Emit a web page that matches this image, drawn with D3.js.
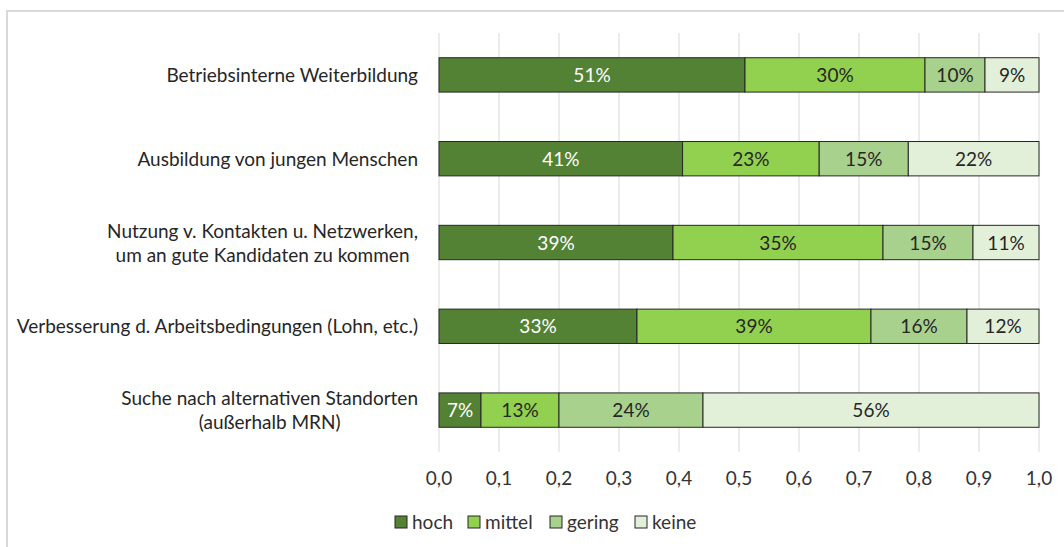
<!DOCTYPE html>
<html>
<head>
<meta charset="utf-8">
<script src="https://cdn.jsdelivr.net/npm/d3@7"></script>
<style>
  body { margin: 0; background: #fff; }
  text { font-family: Lato, "Open Sans", sans-serif; }
</style>
</head>
<body>
<svg id="chart" width="1064" height="547"></svg>
<script>
// categories (each label split into lines)
let categories = [
    ["Betriebsinterne Weiterbildung"],
    ["Ausbildung von jungen Menschen"],
    ["Nutzung v. Kontakten u. Netzwerken,", "um an gute Kandidaten zu kommen"],
    ["Verbesserung d. Arbeitsbedingungen (Lohn, etc.)"],
    ["Suche nach alternativen Standorten", "(außerhalb MRN)"]
];
let seriesNames = ["hoch", "mittel", "gering", "keine"];
let seriesColors = ["#548235", "#92d050", "#a9d18e", "#e2f0d9"];
let labelColors = ["#ffffff", "#262626", "#262626", "#262626"];

// percent values per series, one entry per category
let hoch   = [51, 41, 39, 33, 7];
let mittel = [30, 23, 35, 39, 13];
let gering = [10, 15, 15, 16, 24];
let keine  = [9, 22, 11, 12, 56];

let tickValues = [0, 0.1, 0.2, 0.3, 0.4, 0.5, 0.6, 0.7, 0.8, 0.9, 1.0];

let svg = d3.select("#chart");
let W = 1064, H = 547;
let fontSize = "19px";

// outer frame (only top and left edges visible)
svg.append("path")
    .attr("d", "M7," + H + "V11H" + W)
    .attr("fill", "none")
    .attr("stroke", "#d9d9d9")
    .attr("stroke-width", 2);

let x = d3.scaleLinear().domain([0, 1]).range([439, 1039]);
let y = d3.scaleBand().domain(d3.range(categories.length)).range([33, 452]).paddingInner(0.59).paddingOuter(0.295);

let comma = d3.formatLocale({decimal: ",", thousands: ".", grouping: [3], currency: ["", "€"]}).format(".1f");

// gridlines
svg.append("g")
    .selectAll("line")
    .data(tickValues)
    .enter().append("line")
    .attr("x1", d => x(d)).attr("x2", d => x(d))
    .attr("y1", 33).attr("y2", 452)
    .attr("stroke", "#d9d9d9")
    .attr("stroke-width", 1);

// tick labels
svg.append("g")
    .selectAll("text")
    .data(tickValues)
    .enter().append("text")
    .attr("x", d => x(d))
    .attr("y", 485)
    .attr("text-anchor", "middle")
    .attr("fill", "#333333")
    .style("font-size", fontSize)
    .text(d => comma(d));

// stack data
let rows = categories.map((c, i) => {
    let vals = [hoch[i], mittel[i], gering[i], keine[i]];
    let total = d3.sum(vals);
    let start = 0;
    return vals.map((v, k) => {
        let seg = {row: i, series: k, value: v, x0: start / total, x1: (start + v) / total};
        start += v;
        return seg;
    });
});
let segments = rows.flat();

svg.append("g")
    .selectAll("rect")
    .data(segments)
    .enter().append("rect")
    .attr("x", d => x(d.x0))
    .attr("y", d => y(d.row))
    .attr("width", d => x(d.x1) - x(d.x0))
    .attr("height", y.bandwidth())
    .attr("fill", d => seriesColors[d.series])
    .attr("stroke", "#262626")
    .attr("stroke-width", 1);

svg.append("g")
    .selectAll("text")
    .data(segments)
    .enter().append("text")
    .attr("x", d => (x(d.x0) + x(d.x1)) / 2)
    .attr("y", d => y(d.row) + y.bandwidth() / 2 + 7)
    .attr("text-anchor", "middle")
    .attr("fill", d => labelColors[d.series])
    .style("font-size", fontSize)
    .text(d => d.value + "%");

// category labels: block right-aligned, lines centred inside the block
let labelRight = 418;
let catG = svg.append("g")
    .selectAll("text")
    .data(categories)
    .enter().append("text")
    .attr("text-anchor", "middle")
    .attr("fill", "#262626")
    .style("font-size", fontSize)
    .attr("y", (d, i) => y(i) + y.bandwidth() / 2 + 7 - (d.length - 1) * 12);

catG.selectAll("tspan")
    .data(d => d)
    .enter().append("tspan")
    .attr("dy", (d, j) => j === 0 ? 0 : 24)
    .text(d => d);

catG.each(function() {
    let spans = d3.select(this).selectAll("tspan");
    let maxW = d3.max(spans.nodes(), n => n.getComputedTextLength());
    spans.attr("x", labelRight - maxW / 2);
});

// legend
let legendX = [395, 468, 550, 635];
let legend = svg.append("g")
    .selectAll("g")
    .data(seriesNames)
    .enter().append("g")
    .attr("transform", (d, i) => "translate(" + legendX[i] + ",516)");

legend.append("rect")
    .attr("width", 12).attr("height", 12)
    .attr("fill", (d, i) => seriesColors[i])
    .attr("stroke", "#262626")
    .attr("stroke-width", 1);

legend.append("text")
    .attr("x", 17)
    .attr("y", 13)
    .attr("fill", "#333333")
    .style("font-size", fontSize)
    .text(d => d);
</script>
</body>
</html>
